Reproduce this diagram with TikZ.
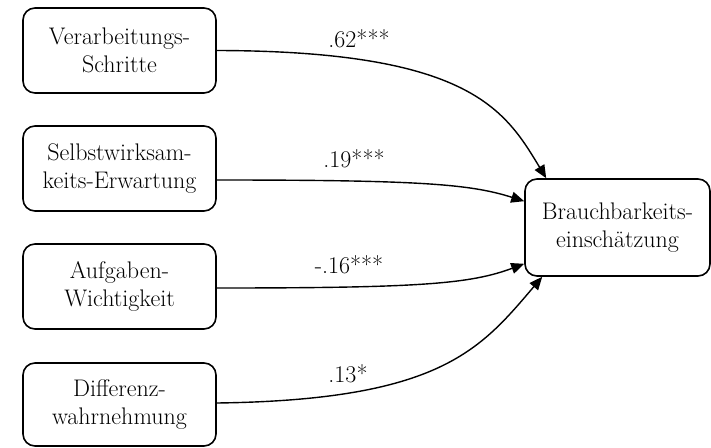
\documentclass[tikz,border=0pt]{standalone}
\usetikzlibrary{arrows.meta}
\begin{document}
\begin{tikzpicture}[x=1pt,y=1pt,
  var/.style={draw, line width=1.6pt, rounded corners=12pt, align=center,
    inner sep=0pt, font=\fontsize{24}{27.5}\selectfont},
  path/.style={line width=1.4pt, -{Triangle[length=13pt,width=11pt]}},
  coef/.style={font=\fontsize{24}{27}\selectfont, inner sep=0pt, anchor=base}]
\useasboundingbox (0,0) rectangle (711,-447);

% predictor variables
\node[var, minimum width=193pt, minimum height=85pt] (vs) at (119.5,-50.5) {Verarbeitungs-\\Schritte};
\node[var, minimum width=193pt, minimum height=85pt] (se) at (119.5,-168.5) {Selbstwirksam-\\keits-Erwartung};
\node[var, minimum width=193pt, minimum height=85pt] (aw) at (119.5,-286.5) {Aufgaben-\\Wichtigkeit};
\node[var, minimum width=193pt, minimum height=83pt] (dw) at (119.5,-404.5) {Differenz-\\wahrnehmung};

% criterion
\node[var, minimum width=185pt, minimum height=97pt] (be) at (617.5,-227.5) {Brauchbarkeits-\\einschätzung};

% regression paths
\draw[path] (vs.east) .. controls (470,-51) and (505,-110) .. ([xshift=22pt]be.north west);
\draw[path] ([yshift=-11.5pt]se.east) .. controls (420,-180) and (470,-184) .. ([yshift=-23pt]be.north west);
\draw[path] ([yshift=-1.5pt]aw.east) .. controls (420,-288) and (470,-284) .. ([yshift=13pt]be.south west);
\draw[path] ([yshift=1.5pt]dw.east) .. controls (440,-400) and (480,-350) .. ([xshift=18pt]be.south west);

% coefficients
\node[coef] (c1) at (359,-47) {.62***};
\node[coef] (c2) at (354,-167) {.19***};
\node[coef] (c3) at (349,-273) {-.16***};
\node[coef] (c4) at (348,-382) {.13*};
\end{tikzpicture}
\end{document}
